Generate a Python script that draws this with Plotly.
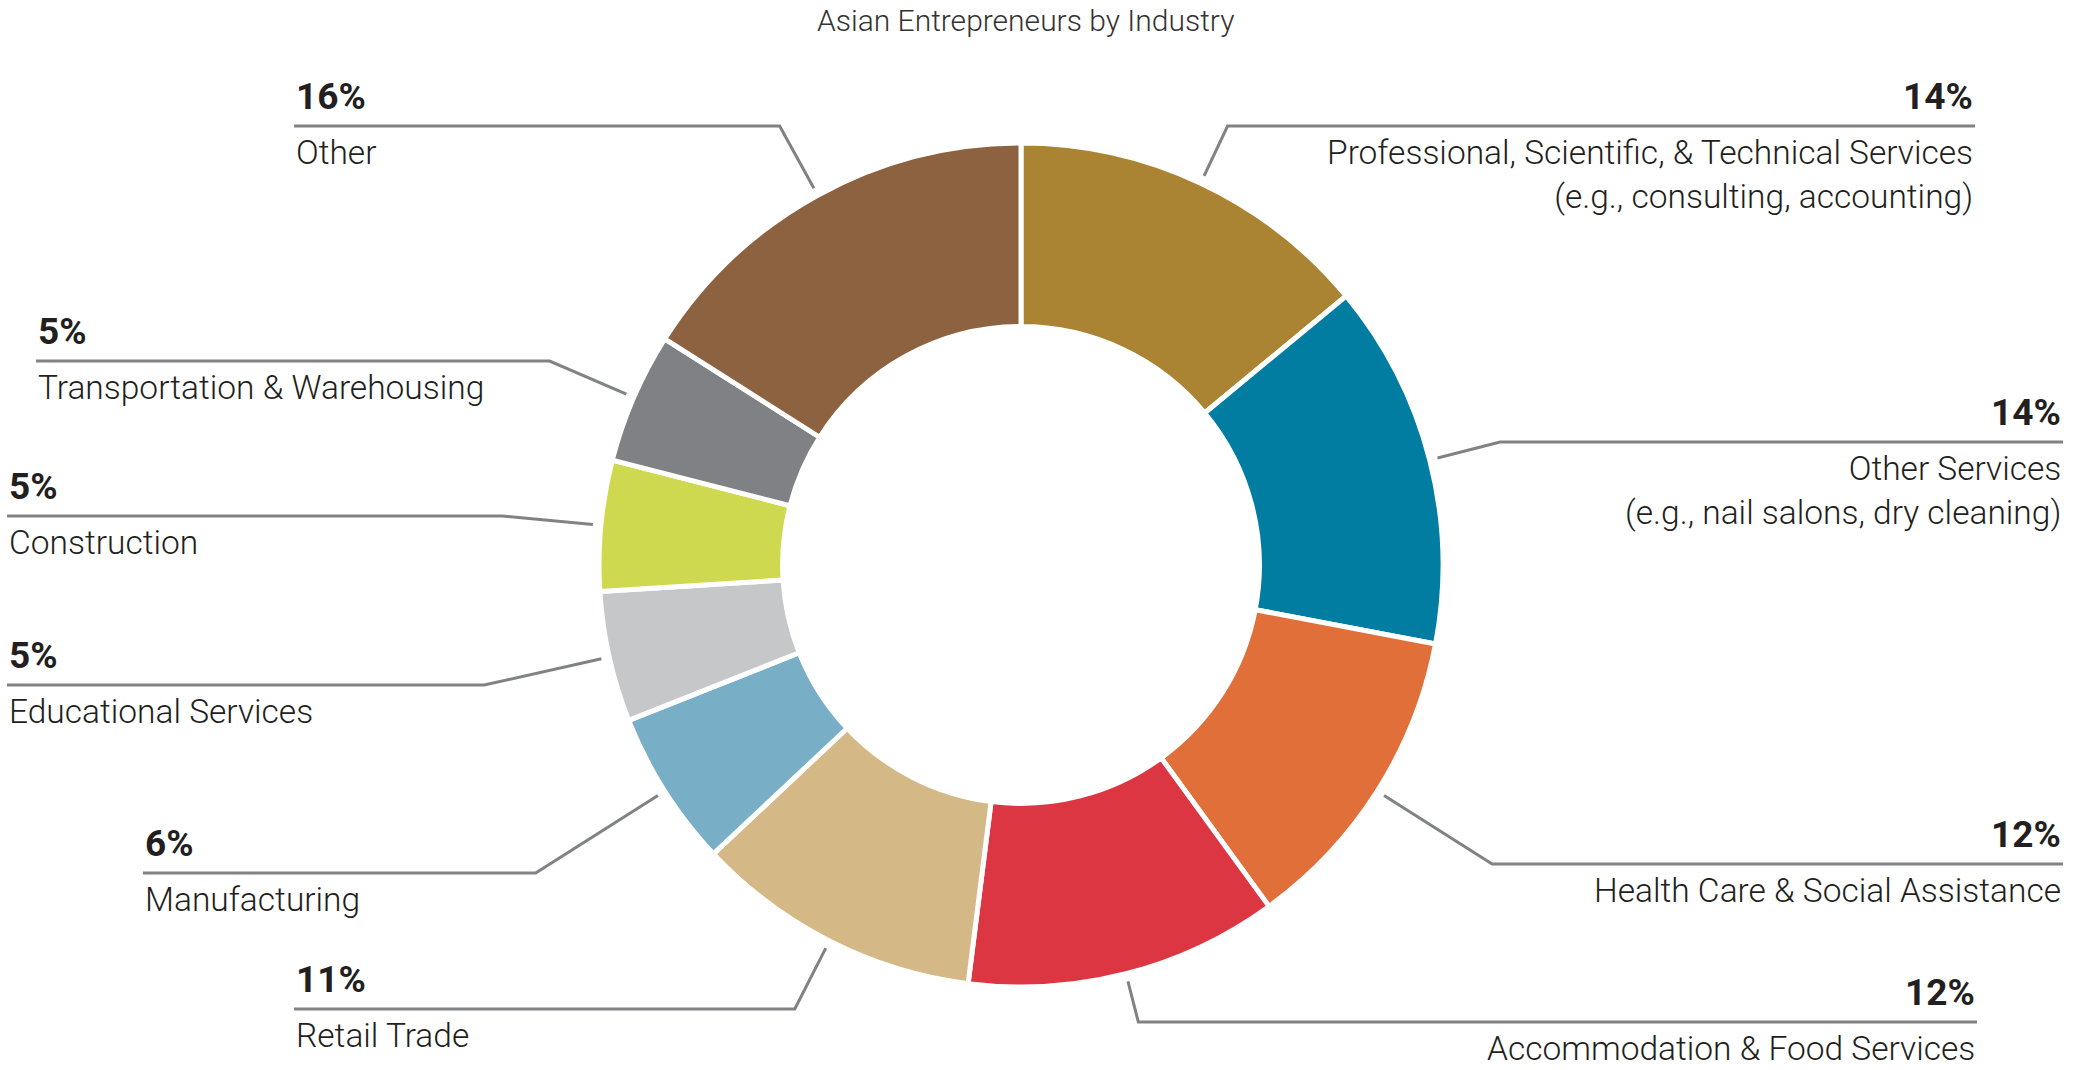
import math
import plotly.graph_objects as go

# ---------------- data ----------------
title_text = "Asian Entrepreneurs by Industry"
categories = [
    "Professional, Scientific, & Technical Services",
    "Other Services",
    "Health Care & Social Assistance",
    "Accommodation & Food Services",
    "Retail Trade",
    "Manufacturing",
    "Educational Services",
    "Construction",
    "Transportation & Warehousing",
    "Other",
]
sublabels = [
    "(e.g., consulting, accounting)",
    "(e.g., nail salons, dry cleaning)",
    "", "", "", "", "", "", "", "",
]
values = [14, 14, 12, 12, 11, 6, 5, 5, 5, 16]
colors = ["#AA8432", "#007DA0", "#E06F39", "#DB3642", "#D4B886",
          "#78AFC7", "#C6C7C9", "#CED950", "#808184", "#8D6240"]

# ---------------- layout / style ----------------
W, H = 2074, 1070
CX, CY, R = 1021, 565, 422
HOLE = 0.565
label_side = ["right", "right", "right", "right", "left", "left", "left", "left", "left", "left"]
label_line_y = [126, 442, 864, 1022, 1009, 873, 685, 516, 361, 126]
label_edge_x = [1975, 2063, 2063, 1977, 294, 143, 7, 7, 36, 294]
LEADER_R = 430
TEXT_COLOR = "#231F20"
LINE_COLOR = "#808285"
FONT = "Roboto"

def px(x):
    return x / W

def py(y):
    return 1 - y / H

fig = go.Figure()
fig.add_trace(go.Pie(
    values=values,
    labels=categories,
    sort=False,
    direction="clockwise",
    rotation=0,
    hole=HOLE,
    marker=dict(colors=colors, line=dict(color="white", width=5)),
    textinfo="none",
    hoverinfo="label+percent",
    showlegend=False,
    domain=dict(x=[px(CX - R), px(CX + R)], y=[py(CY + R), py(CY - R)]),
))

total = sum(values)
shapes = []
annotations = []
cum = 0.0
for i, v in enumerate(values):
    mid = (cum + v / 2) / total * 2 * math.pi
    cum += v
    s, c = math.sin(mid), math.cos(mid)
    x0, y0 = CX + LEADER_R * s, CY - LEADER_R * c
    ly = label_line_y[i]
    r1 = (CY - ly) / c if abs(c) > 1e-6 else LEADER_R
    x1 = CX + r1 * s
    x2 = label_edge_x[i]
    shapes.append(dict(
        type="path", xref="paper", yref="paper",
        path=f"M {px(x0)},{py(y0)} L {px(x1)},{py(ly)} L {px(x2)},{py(ly)}",
        line=dict(color=LINE_COLOR, width=3),
    ))
    anchor = "left" if label_side[i] == "left" else "right"
    annotations.append(dict(
        x=px(x2), y=py(ly - 6), xref="paper", yref="paper",
        xanchor=anchor, yanchor="bottom", showarrow=False,
        text=f"<b>{v}%</b>", align=anchor,
        font=dict(family=FONT, size=37, color=TEXT_COLOR),
    ))
    name = categories[i] + (f"<br>{sublabels[i]}" if sublabels[i] else "")
    annotations.append(dict(
        x=px(x2), y=py(ly + 5), xref="paper", yref="paper",
        xanchor=anchor, yanchor="top", showarrow=False,
        text=name, align=anchor,
        font=dict(family=FONT, size=33.5, color=TEXT_COLOR, weight=300),
    ))

annotations.append(dict(
    x=px(1025), y=py(20), xref="paper", yref="paper",
    xanchor="center", yanchor="middle", showarrow=False,
    text=title_text,
    font=dict(family=FONT, size=30, color="#333333", weight=300),
))

fig.update_layout(
    width=W, height=H,
    margin=dict(l=0, r=0, t=0, b=0),
    paper_bgcolor="white",
    plot_bgcolor="white",
    shapes=shapes,
    annotations=annotations,
)

fig.write_html(
    "out.html",
    config={"displayModeBar": False},
    post_script="document.body.style.margin='0';document.body.style.overflow='hidden';",
)
